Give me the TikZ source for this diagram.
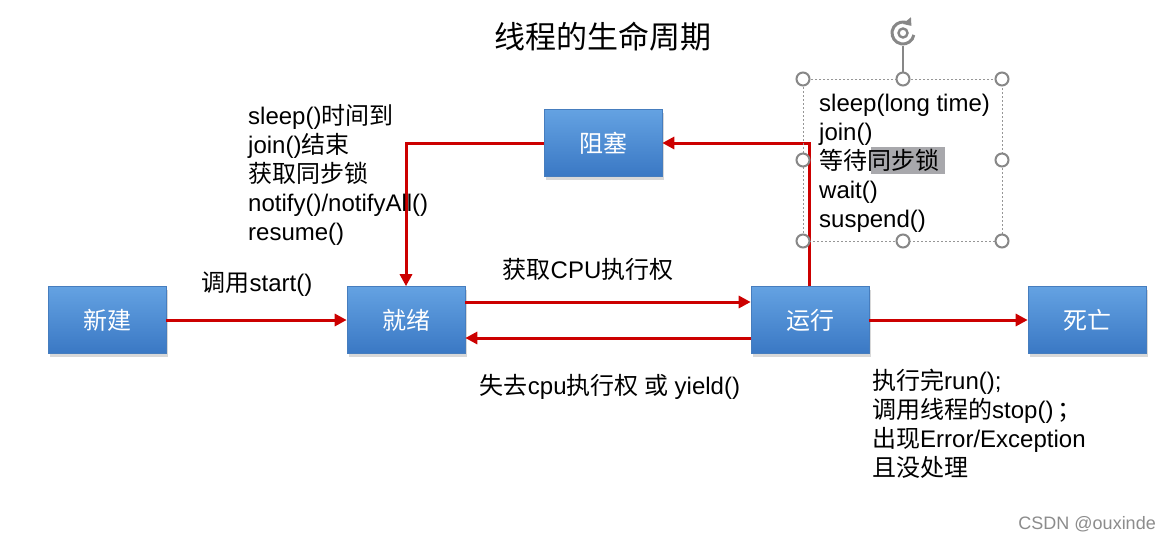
\documentclass[tikz,border=0pt]{standalone}
\usepackage{fontspec}
\setmainfont{Liberation Sans}
\newfontfamily\zh{Noto Sans CJK SC}
\usetikzlibrary{arrows.meta,shadows}

\definecolor{lnred}{RGB}{204,0,0}
\definecolor{boxtop}{RGB}{100,162,226}
\definecolor{boxbot}{RGB}{58,120,196}
\definecolor{boxedge}{RGB}{70,125,190}
\definecolor{handlegray}{RGB}{135,135,135}
\definecolor{selgray}{RGB}{150,150,150}
\definecolor{hlgray}{RGB}{168,168,172}
\definecolor{wmgray}{RGB}{140,140,140}

\begin{document}
\begin{tikzpicture}[x=1pt,y=-1pt,
  state/.style={minimum width=118pt, minimum height=67pt, inner sep=0pt,
    top color=boxtop, bottom color=boxbot, draw=boxedge, line width=0.6pt,
    text=white, font=\zh\fontsize{24}{28}\selectfont,
    drop shadow={shadow xshift=2pt, shadow yshift=-3pt, opacity=0.3}},
  flow/.style={draw=lnred, line width=3pt, -{Triangle[length=12pt,width=12pt]}},
  lbl/.style={font=\fontsize{24}{29}\selectfont, align=left, inner sep=0pt},
  handle/.style={circle, draw=handlegray, line width=2pt, fill=white,
    minimum size=13pt, inner sep=0pt},
]
\useasboundingbox[fill=white] (0,0) rectangle (1169,541);

% title
\node[font=\zh\fontsize{31}{36}\selectfont] (title) at (603,37) {线程的生命周期};

% states
\node[state] (new)   at (107,320)  {新建};
\node[state] (ready) at (406,320)  {就绪};
\node[state] (run)   at (810,320)  {运行};
\node[state] (dead)  at (1087,320) {死亡};
\node[state] (block) at (603,143)  {阻塞};

% transitions
\draw[flow] (new) -- (ready);
\draw[flow] ([yshift=18pt]ready.east) -- ([yshift=18pt]run.west);
\draw[flow] ([yshift=-18pt]run.west) -- ([yshift=-18pt]ready.east);
\draw[flow] (run) -- (dead);
\draw[flow] ([xshift=-1pt]run.north) |- (block.east);
\draw[flow] (block.west) -| (ready.north);

% labels
\node[lbl, anchor=north west] (wake) at (248,104)
  {sleep(){\zh 时间到}\\join(){\zh 结束}\\{\zh 获取同步锁}\\notify()/notifyAll()\\resume()};
\node[lbl, anchor=base] (startlbl) at (257,291) {{\zh 调用}start()};
\node[lbl, anchor=base] (getcpu) at (588,278) {{\zh 获取}CPU{\zh 执行权}};
\node[lbl, anchor=base] (losecpu) at (610,394) {{\zh 失去}cpu{\zh 执行权 或} yield()};
\node[lbl, anchor=north west] (endlbl) at (872,369)
  {{\zh 执行完}run();\\{\zh 调用线程的}stop()\,{\zh ；}\\{\zh 出现}Error/Exception\\{\zh 且没处理}};

% selected text box
\draw[selgray, line width=1pt, dash pattern=on 2pt off 2pt] (803,79) rectangle (1002,241);
\fill[hlgray] (871,147) rectangle (945,174);
\node[lbl, anchor=north west] (blocklbl) at (819,94)
  {sleep(long time)\\join()\\{\zh 等待同步锁}\\wait()\\suspend()};

% rotation handle
\draw[handlegray, line width=2pt] (903,46) -- (903,73);
\draw[handlegray, line width=3pt, -{Triangle[length=7pt,width=10pt]}]
  (903,33) ++(10:11) arc[start angle=10, end angle=320, radius=11];
\draw[handlegray, line width=2.4pt] (903,33) circle[radius=4.5];

% resize handles
\foreach \hx/\hy/\hn in {803/79/a, 903/79/b, 1002/79/c, 803/160/d,
                         1002/160/e, 803/241/f, 903/241/g, 1002/241/h}
  \node[handle] (hd\hn) at (\hx,\hy) {};

% watermark
\node[anchor=east, text=wmgray, font=\fontsize{18}{20}\selectfont, inner sep=0pt]
  (wm) at (1156,524) {CSDN @ouxinde};
\end{tikzpicture}
\end{document}
